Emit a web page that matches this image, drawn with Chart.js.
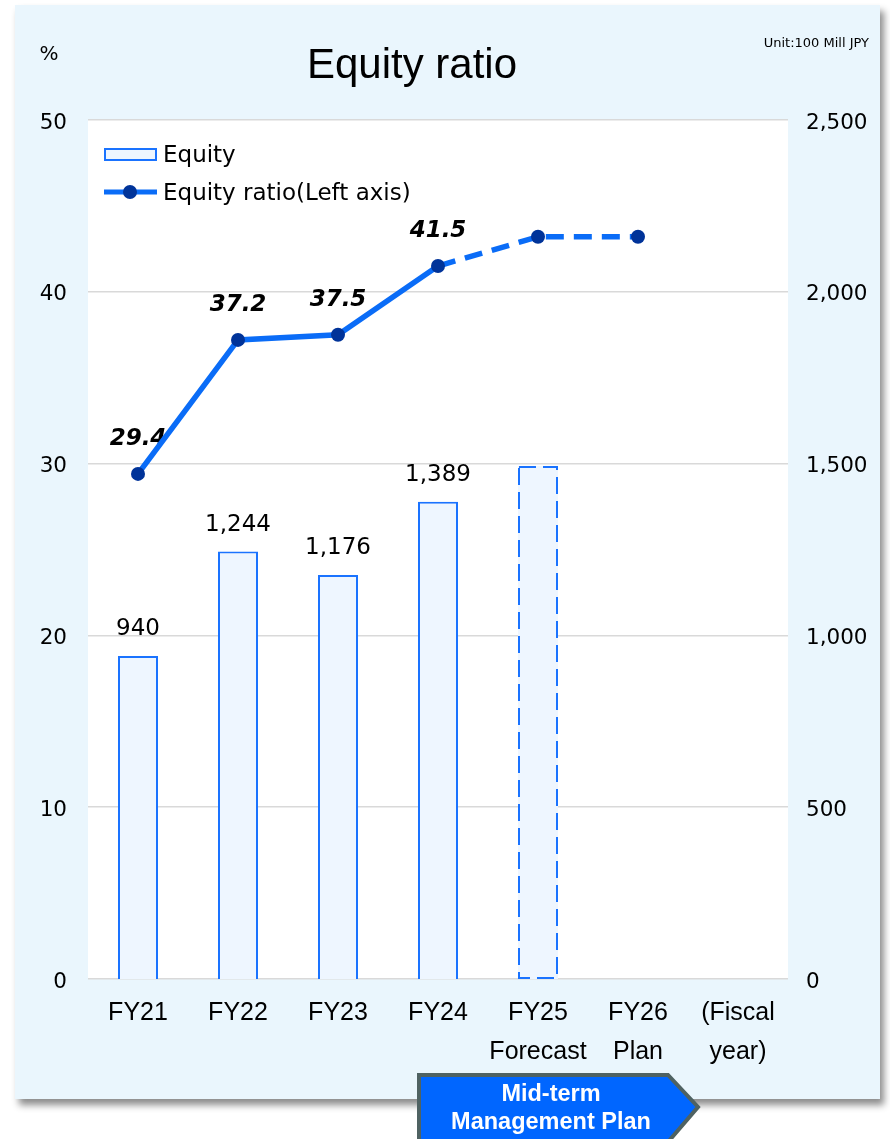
<!DOCTYPE html>
<html>
<head>
<meta charset="utf-8">
<script src="https://cdn.jsdelivr.net/npm/chart.js@4/dist/chart.umd.min.js"></script>
<style>
  html, body { margin: 0; padding: 0; background: #ffffff; }
  #wrap { width: 890px; height: 1139px; position: relative; }
</style>
</head>
<body>
<div id="wrap"><canvas id="c" width="890" height="1139"></canvas></div>
<script>
// ---- data ----
const categories = ['FY21', 'FY22', 'FY23', 'FY24', ['FY25', 'Forecast'], ['FY26', 'Plan'], ['(Fiscal', 'year)']];
const equity = [940, 1244, 1176, 1389, 1493, null, null];
const equityRatio = [29.4, 37.2, 37.5, 41.5, 43.2, 43.2, null];
const equityLabelCount = 4;   // bars with value labels
const ratioLabelCount = 4;    // points with value labels
const leftTicks = [0, 10, 20, 30, 40, 50];
const rightTicks = [0, 500, 1000, 1500, 2000, 2500];
const titleText = 'Equity ratio';
const unitText = 'Unit:100 Mill JPY';
const leftUnit = '%';
const legendEquity = 'Equity';
const legendRatio = 'Equity ratio(Left axis)';
const planLines = ['Mid-term', 'Management Plan'];

// ---- styles ----
const BAR_FILL = '#EEF6FF';
const BAR_BORDER = '#1A73FF';
const LINE_COLOR = '#0A6CF7';
const POINT_COLOR = '#003399';
const GRID = '#D9D9D9';
const PANEL = '#EAF6FD';
const VFONT = '"DejaVu Sans", Verdana, sans-serif';
const AFONT = '"Liberation Sans", Arial, sans-serif';

const fmt = v => v.toLocaleString('en-US');

const decorPlugin = {
  id: 'decor',
  beforeDraw(chart) {
    const ctx = chart.ctx;
    const a = chart.chartArea;
    ctx.save();
    ctx.shadowColor = 'rgba(0,0,0,0.45)';
    ctx.shadowBlur = 7;
    ctx.shadowOffsetX = 4;
    ctx.shadowOffsetY = 6;
    ctx.fillStyle = PANEL;
    ctx.fillRect(15, 5, 865, 1094);
    ctx.restore();
    ctx.save();
    ctx.fillStyle = '#FFFFFF';
    ctx.fillRect(a.left, a.top, a.right - a.left, a.bottom - a.top);
    ctx.fillStyle = '#000';
    ctx.font = '42px ' + AFONT;
    ctx.textAlign = 'center';
    ctx.textBaseline = 'alphabetic';
    ctx.fillText(titleText, 412, 78);
    ctx.font = '20px ' + VFONT;
    ctx.fillText(leftUnit, 49, 60);
    ctx.font = '13px ' + VFONT;
    ctx.textAlign = 'right';
    ctx.fillText(unitText, 869, 47);
    ctx.restore();
  },
  afterDatasetDraw(chart, args) {
    const ctx = chart.ctx;
    if (args.index === 0) {
      const meta = chart.getDatasetMeta(0);
      ctx.save();
      meta.data.forEach((el, i) => {
        if (i >= 4 && equity[i] != null) {
          const p = el.getProps(['x', 'y', 'base', 'width'], true);
          ctx.strokeStyle = BAR_BORDER;
          ctx.lineWidth = 2;
          ctx.setLineDash([17, 7]);
          ctx.strokeRect(p.x - p.width / 2 + 1, p.y + 1, p.width - 2, p.base - p.y - 2);
        }
      });
      ctx.setLineDash([]);
      ctx.fillStyle = '#000';
      ctx.font = '23px ' + VFONT;
      ctx.textAlign = 'center';
      ctx.textBaseline = 'middle';
      meta.data.forEach((el, i) => {
        if (i < equityLabelCount && equity[i] != null) {
          const p = el.getProps(['x', 'y'], true);
          ctx.fillText(fmt(equity[i]), p.x, p.y - 27);
        }
      });
      ctx.restore();
    }
  },
  beforeDatasetDraw(chart, args) {
    if (args.index === 1) {
      const ctx = chart.ctx;
      const meta = chart.getDatasetMeta(1);
      ctx.save();
      ctx.fillStyle = '#000';
      ctx.font = 'italic bold 23px ' + VFONT;
      ctx.textAlign = 'center';
      ctx.textBaseline = 'middle';
      meta.data.forEach((el, i) => {
        if (i < ratioLabelCount && equityRatio[i] != null) {
          const p = el.getProps(['x', 'y'], true);
          ctx.fillText(equityRatio[i].toFixed(1), p.x, p.y - 35);
        }
      });
      ctx.restore();
    }
  },
  afterDraw(chart) {
    const ctx = chart.ctx;
    ctx.save();
    ctx.fillStyle = BAR_FILL;
    ctx.fillRect(104, 148, 53, 13);
    ctx.strokeStyle = BAR_BORDER;
    ctx.lineWidth = 2;
    ctx.strokeRect(105, 149, 51, 11);
    ctx.strokeStyle = LINE_COLOR;
    ctx.lineWidth = 5;
    ctx.beginPath();
    ctx.moveTo(104, 192);
    ctx.lineTo(157, 192);
    ctx.stroke();
    ctx.fillStyle = POINT_COLOR;
    ctx.beginPath();
    ctx.arc(130, 192, 7, 0, Math.PI * 2);
    ctx.fill();
    ctx.fillStyle = '#000';
    ctx.font = '23px ' + VFONT;
    ctx.textAlign = 'left';
    ctx.textBaseline = 'middle';
    ctx.fillText(legendEquity, 163, 156);
    ctx.fillText(legendRatio, 163, 194);
    ctx.beginPath();
    ctx.moveTo(419, 1075);
    ctx.lineTo(668, 1075);
    ctx.lineTo(698, 1107);
    ctx.lineTo(668, 1142);
    ctx.lineTo(419, 1142);
    ctx.closePath();
    ctx.fillStyle = '#0066FF';
    ctx.fill();
    ctx.strokeStyle = '#4F6262';
    ctx.lineWidth = 4;
    ctx.lineJoin = 'miter';
    ctx.stroke();
    ctx.fillStyle = '#FFFFFF';
    ctx.font = 'bold 23.5px ' + AFONT;
    ctx.textAlign = 'center';
    ctx.fillText(planLines[0], 551, 1095);
    ctx.fillText(planLines[1], 551, 1123);
    ctx.restore();
  }
};

new Chart(document.getElementById('c'), {
  data: {
    labels: categories,
    datasets: [
      {
        type: 'bar',
        label: legendEquity,
        data: equity,
        yAxisID: 'y1',
        backgroundColor: BAR_FILL,
        borderColor: BAR_BORDER,
        borderWidth: ctx => (ctx.dataIndex >= 4 ? 0 : 2),
        barPercentage: 0.4,
        categoryPercentage: 1.0,
        order: 2
      },
      {
        type: 'line',
        label: legendRatio,
        data: equityRatio,
        yAxisID: 'y',
        borderColor: LINE_COLOR,
        borderWidth: 5.5,
        pointRadius: 7,
        pointHoverRadius: 7,
        pointBackgroundColor: POINT_COLOR,
        pointBorderColor: POINT_COLOR,
        pointBorderWidth: 0,
        tension: 0,
        segment: {
          borderDash: ctx => (ctx.p0DataIndex >= 3 ? [18, 10] : undefined)
        },
        order: 1
      }
    ]
  },
  options: {
    responsive: false,
    devicePixelRatio: 1,
    animation: false,
    layout: { padding: { top: 120, left: 0, right: 0, bottom: 0 } },
    plugins: { legend: { display: false }, tooltip: { enabled: false }, title: { display: false } },
    scales: {
      x: {
        offset: true,
        grid: { display: false },
        border: { display: false },
        ticks: {
          color: '#000',
          font: { family: AFONT, size: 25, lineHeight: 1.56 },
          padding: 7,
          maxRotation: 0,
          autoSkip: false
        },
        afterFit: s => { s.height = 160; }
      },
      y: {
        position: 'left',
        min: 0, max: 50,
        afterBuildTicks: s => { s.ticks = leftTicks.map(v => ({ value: v })); },
        grid: { color: GRID, lineWidth: 1.5, drawTicks: false },
        border: { display: false },
        ticks: { color: '#000', font: { family: VFONT, size: 21.5 }, padding: 21, labelOffset: 3 },
        afterFit: s => { s.width = 88; }
      },
      y1: {
        position: 'right',
        min: 0, max: 2500,
        afterBuildTicks: s => { s.ticks = rightTicks.map(v => ({ value: v })); },
        grid: { display: false, drawTicks: false },
        border: { display: false },
        ticks: { color: '#000', font: { family: VFONT, size: 21.5 }, padding: 18, labelOffset: 3, callback: v => fmt(v) },
        afterFit: s => { s.width = 102; }
      }
    }
  },
  plugins: [decorPlugin]
});
</script>
</body>
</html>
